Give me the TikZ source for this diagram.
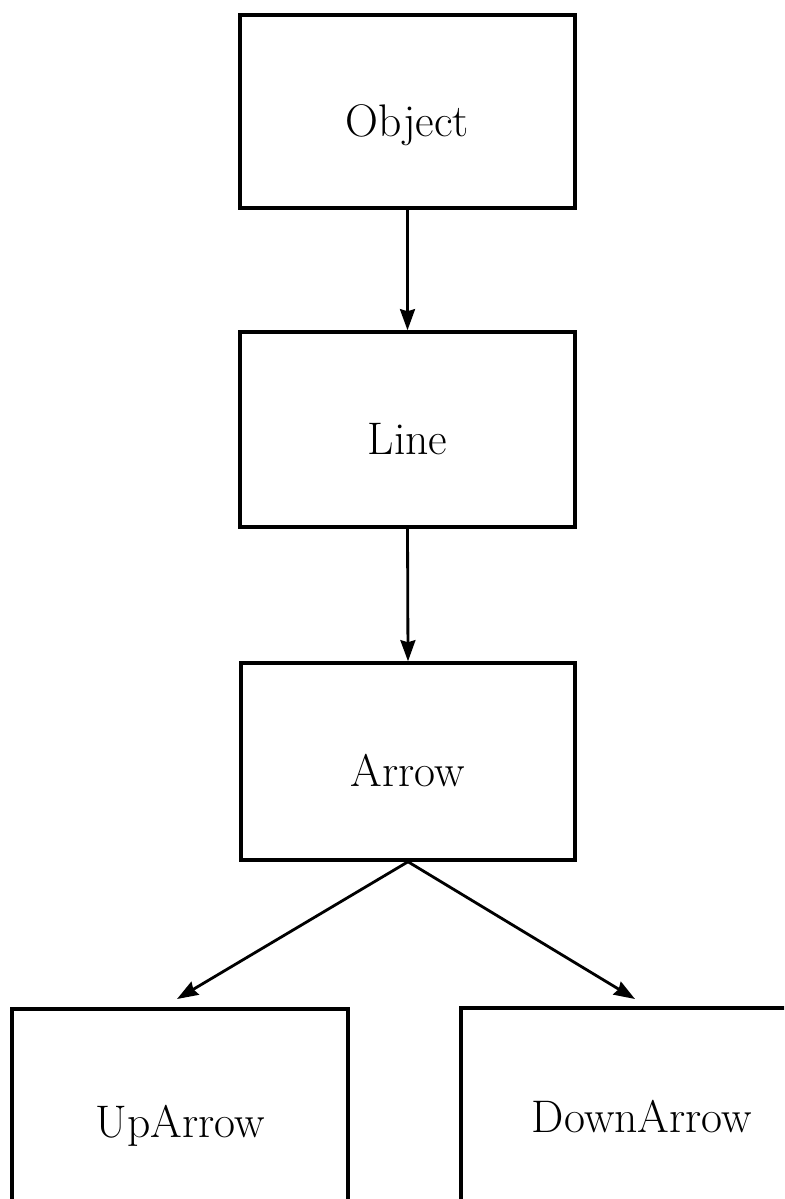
\documentclass[tikz,border=0pt]{standalone}
\usetikzlibrary{arrows.meta}
\begin{document}
\begin{tikzpicture}[x=0.02cm,y=-0.02cm,
    classbox/.style={draw,line width=2pt,inner sep=0pt,
        font=\fontsize{26}{30}\selectfont,text height=29pt,text depth=0pt},
    inherit/.style={-{Stealth[length=12pt,width=8.5pt,inset=1.2pt]},line width=1.6pt}]

    \clip (0,0) rectangle (784,1199);

    \node[classbox,minimum width=6.7cm,minimum height=3.86cm] (object) at (407.5,111.5) {Object};
    \node[classbox,minimum width=6.7cm,minimum height=3.9cm] (line) at (407.5,429.5) {Line};
    \node[classbox,minimum width=6.68cm,minimum height=3.94cm] (arrow) at (408,761.5) {Arrow};

    % the two lower boxes run off the page
    \node[classbox,minimum width=6.72cm,minimum height=4.12cm] (uparrow) at (180,1112) {UpArrow};
    \node[classbox,minimum width=7.24cm,minimum height=3.96cm] (downarrow) at (642,1107) {DownArrow};

    \coordinate (uptip) at (177,999);
    \coordinate (downtip) at (635,999);

    \draw[inherit] (object.south) -- (line.north);
    \draw[inherit] (line.south) -- (arrow.north);
    \draw[inherit] (arrow.south) -- (uptip);
    \draw[inherit] (arrow.south) -- (downtip);

\end{tikzpicture}
\end{document}
